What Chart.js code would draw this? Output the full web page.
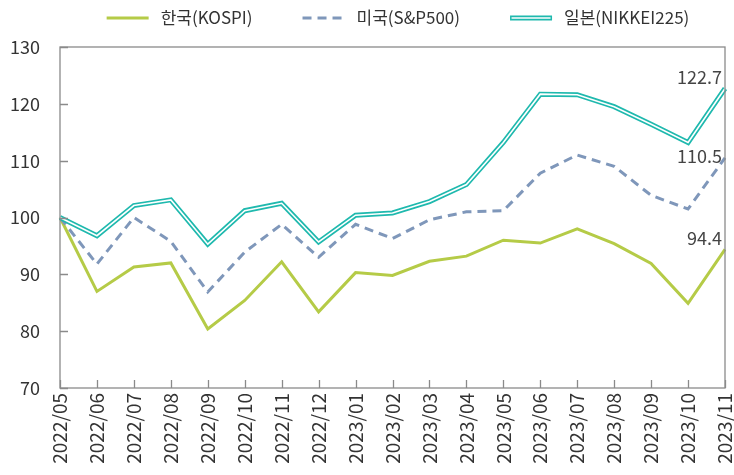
<!DOCTYPE html>
<html>
<head>
<meta charset="utf-8">
<script src="https://cdn.jsdelivr.net/npm/chart.js@4"></script>
<style>
  html, body { margin: 0; padding: 0; background: #fff; }
  #wrap { width: 734px; height: 475px; }
</style>
</head>
<body>
<div id="wrap"><canvas id="chartjs"></canvas></div>
<script>
const months = [
  "2022/05", "2022/06", "2022/07", "2022/08", "2022/09", "2022/10", "2022/11",
  "2022/12", "2023/01", "2023/02", "2023/03", "2023/04", "2023/05", "2023/06",
  "2023/07", "2023/08", "2023/09", "2023/10", "2023/11"
];
const kospi = [100, 87.0, 91.3, 92.0, 80.4, 85.4, 92.2, 83.4, 90.3, 89.8, 92.3, 93.2, 96.0, 95.5, 98.0, 95.4, 91.9, 84.9, 94.4];
const sp500 = [100, 91.8, 100.0, 95.8, 86.9, 93.9, 98.8, 93.0, 98.8, 96.3, 99.6, 101.0, 101.2, 107.8, 111.0, 109.0, 103.9, 101.5, 110.5];
const nikkei = [100, 96.8, 102.1, 103.1, 95.3, 101.2, 102.5, 95.7, 100.4, 100.8, 102.8, 105.8, 113.2, 121.7, 121.6, 119.5, 116.4, 113.2, 122.7];
const yTicks = [70, 80, 90, 100, 110, 120, 130];

const FONT = "'Noto Sans CJK KR', 'Noto Sans', sans-serif";
const TEXT = "#333";
const AXIS = "#8a8a8a";

// frame around the plot area + short inward ticks
const framePlugin = {
  id: "frame",
  afterDraw(chart) {
    const { ctx, chartArea: a, scales } = chart;
    ctx.save();
    ctx.strokeStyle = AXIS;
    ctx.lineWidth = 1.3;
    ctx.strokeRect(a.left, a.top, a.right - a.left, a.bottom - a.top);
    ctx.beginPath();
    scales.y.ticks.forEach((t, i) => {
      const y = Math.round(scales.y.getPixelForTick(i)) + 0.5;
      ctx.moveTo(a.left, y);
      ctx.lineTo(a.left + 8, y);
    });
    scales.x.ticks.forEach((t, i) => {
      const x = Math.round(scales.x.getPixelForTick(i)) + 0.5;
      ctx.moveTo(x, a.bottom);
      ctx.lineTo(x, a.bottom - 8);
    });
    ctx.stroke();
    ctx.restore();
  }
};

// value of the last point, written left of it
const endLabelPlugin = {
  id: "endLabel",
  afterDatasetsDraw(chart) {
    const { ctx } = chart;
    ctx.save();
    ctx.font = "18px " + FONT;
    ctx.fillStyle = "#444";
    ctx.textAlign = "right";
    ctx.textBaseline = "middle";
    chart.data.datasets.forEach((ds, i) => {
      if (ds.endLabelDy === undefined) return;
      const pts = chart.getDatasetMeta(i).data;
      const p = pts[pts.length - 1];
      ctx.fillText(ds.data[ds.data.length - 1].toFixed(1), p.x - 3, p.y + ds.endLabelDy);
    });
    ctx.restore();
  }
};

// legend drawn by hand so the line samples and spacing match
const lineLegendPlugin = {
  id: "lineLegend",
  afterDraw(chart) {
    const { ctx } = chart;
    const items = chart.data.datasets.filter(ds => ds.legendText).reverse();
    const sample = 42, gap = 12, space = 50, y = 18;
    ctx.save();
    ctx.font = "17px " + FONT;
    const widths = items.map(ds => sample + gap + ctx.measureText(ds.legendText).width);
    const total = widths.reduce((s, w) => s + w, 0) + space * (items.length - 1);
    let x = 398 - total / 2;
    items.forEach((ds, i) => {
      ctx.setLineDash(ds.borderDash || []);
      if (ds.legendDouble) {
        ctx.strokeStyle = ds.borderColor;
        ctx.lineWidth = 5;
        ctx.beginPath(); ctx.moveTo(x, y); ctx.lineTo(x + sample, y); ctx.stroke();
        ctx.strokeStyle = "#fff";
        ctx.lineWidth = 1.6;
        ctx.beginPath(); ctx.moveTo(x + 1.5, y); ctx.lineTo(x + sample - 1.5, y); ctx.stroke();
      } else {
        ctx.strokeStyle = ds.borderColor;
        ctx.lineWidth = ds.borderWidth;
        ctx.beginPath(); ctx.moveTo(x, y); ctx.lineTo(x + sample, y); ctx.stroke();
      }
      ctx.setLineDash([]);
      ctx.fillStyle = TEXT;
      ctx.textBaseline = "middle";
      ctx.fillText(ds.legendText, x + sample + gap, y);
      x += widths[i] + space;
    });
    ctx.restore();
  }
};

const initChart = () => {
  const chartElem = document.getElementById("chartjs");
  new Chart(chartElem, {
    type: "line",
    data: {
      labels: months,
      datasets: [
        {
          label: "일본(NIKKEI225) inner",
          data: nikkei,
          borderColor: "#ffffff",
          borderWidth: 1.6,
          order: 0
        },
        {
          label: "일본(NIKKEI225)",
          legendText: "일본(NIKKEI225)",
          legendDouble: true,
          endLabelDy: -11,
          data: nikkei,
          borderColor: "#1fb9ae",
          borderWidth: 5,
          order: 1
        },
        {
          label: "미국(S&P500)",
          legendText: "미국(S&P500)",
          endLabelDy: -2,
          data: sp500,
          borderColor: "#7f97ba",
          borderWidth: 3,
          borderDash: [9, 6],
          order: 2
        },
        {
          label: "한국(KOSPI)",
          legendText: "한국(KOSPI)",
          endLabelDy: -11,
          data: kospi,
          borderColor: "#b5cb47",
          borderWidth: 3,
          order: 3
        }
      ]
    },
    options: {
      responsive: true,
      maintainAspectRatio: false,
      animation: false,
      layout: { padding: { top: 47, right: 9, left: 0, bottom: 0 } },
      elements: {
        line: { tension: 0, fill: false, borderJoinStyle: "miter" },
        point: { radius: 0, hoverRadius: 0 }
      },
      plugins: {
        legend: { display: false },
        tooltip: { enabled: false }
      },
      scales: {
        x: {
          offset: false,
          grid: { display: false, drawTicks: false },
          border: { display: false },
          ticks: {
            color: TEXT,
            font: { family: FONT, size: 19 },
            minRotation: 90,
            maxRotation: 90,
            autoSkip: false,
            padding: 5
          },
          afterFit: (scale) => {
            scale.height = 87;
            scale.paddingLeft = 0;
            scale.paddingRight = 0;
          }
        },
        y: {
          min: 70,
          max: 130,
          afterBuildTicks: (scale) => { scale.ticks = yTicks.map(v => ({ value: v })); },
          grid: { display: false, drawTicks: false },
          border: { display: false },
          ticks: {
            color: TEXT,
            font: { family: FONT, size: 18 },
            padding: 20
          },
          afterFit: (scale) => {
            scale.width = 60;
            scale.paddingTop = 0;
            scale.paddingBottom = 0;
          }
        }
      }
    },
    plugins: [framePlugin, endLabelPlugin, lineLegendPlugin]
  });
};

initChart();
</script>
</body>
</html>
